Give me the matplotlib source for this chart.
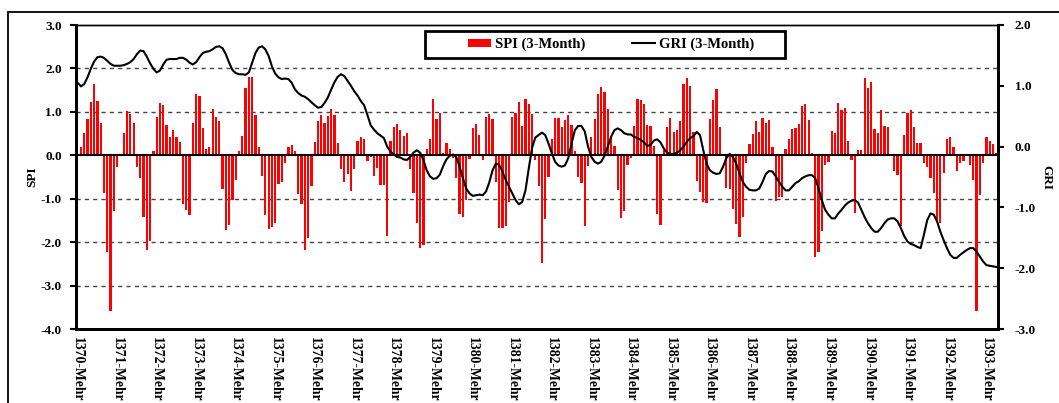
import matplotlib
matplotlib.use('Agg')
import matplotlib.pyplot as plt
from matplotlib.patches import Rectangle
from matplotlib.lines import Line2D
from matplotlib.patches import Patch
import numpy as np

plt.rcParams['font.family'] = ['Liberation Serif', 'DejaVu Serif']
plt.rcParams['font.weight'] = 'bold'

# ---------------- data ----------------
years = list(range(1370, 1394))
tick_labels = [f"{y}-Mehr" for y in years]

spi = [
    -0.02, 0.18, 0.52, 0.83, 1.22, 1.65, 1.25, 0.75, -0.86, -2.23, -3.58, -1.29,
    -0.27, 0.04, 0.52, 1.02, 0.95, 0.75, -0.27, -0.52, -1.42, -2.18, -1.98, 0.09,
    0.88, 1.21, 1.15, 0.69, 0.42, 0.58, 0.41, 0.31, -1.12, -1.25, -1.38, 0.75,
    1.41, 1.37, 0.62, 0.14, 0.18, 1.06, 0.88, 0.80, -0.78, -1.71, -1.60, -1.04,
    -0.58, 0.09, 0.44, 1.54, 1.81, 1.81, 0.93, 0.18, -0.47, -1.37, -1.70, -1.64,
    -1.56, -0.65, -0.62, -0.18, 0.18, 0.23, 0.09, -0.88, -1.12, -2.19, -1.90, -0.71,
    0.31, 0.79, 0.92, 0.75, 0.91, 1.06, 0.92, 0.28, -0.32, -0.62, -0.44, -0.82,
    -0.32, 0.32, 0.41, 0.37, -0.14, -0.04, -0.47, -0.29, -0.69, -0.68, -1.86, 0.32,
    0.65, 0.72, 0.58, 0.44, 0.52, -0.32, -0.86, -1.55, -2.14, -2.06, 0.15, 0.38,
    1.30, 0.83, 0.98, 0.05, 0.28, 0.15, -0.06, -0.52, -1.35, -1.41, -1.04, -0.08,
    0.62, 0.73, 0.46, -0.10, 0.88, 0.96, 0.83, -0.62, -1.68, -1.68, -1.63, -1.08,
    0.88, 0.98, 1.23, 0.68, 1.30, 1.19, 0.96, -0.12, -0.71, -2.48, -1.46, -0.50,
    0.38, 0.85, 0.85, 0.64, 0.81, 0.92, 0.69, 0.09, -0.50, -0.64, -1.62, -0.25,
    0.42, 0.84, 1.41, 1.58, 1.45, 1.06, 0.41, 0.21, -0.79, -1.44, -1.29, -0.22,
    -0.06, 0.67, 1.30, 1.27, 1.19, 0.69, 0.68, 0.21, -1.35, -1.60, 0.12, 0.65,
    0.87, 0.54, 0.59, 0.79, 1.64, 1.79, 1.60, 0.54, -0.60, -0.85, -1.08, -1.10,
    0.83, 1.27, 1.52, 0.65, 0.04, -0.75, -0.77, -1.23, -1.58, -1.88, -1.41, -0.18,
    0.27, 0.50, 0.79, 0.54, 0.87, 0.75, 0.82, 0.19, -1.05, -0.96, -0.96, 0.15,
    0.38, 0.60, 0.63, 0.73, 1.13, 1.18, 0.81, 0.06, -2.35, -2.23, -1.75, -0.23,
    -0.15, 0.55, 0.52, 1.21, 1.04, 1.10, 0.32, -0.10, -1.33, 0.13, 0.12, 1.77,
    1.54, 1.68, 0.60, 0.52, 1.04, 0.68, 0.64, 0.02, -0.37, -0.46, -1.62, 0.46,
    0.98, 1.04, 0.64, 0.28, 0.28, -0.18, -0.27, -0.52, -0.86, -1.50, -1.56, -0.41,
    0.37, 0.41, 0.19, -0.37, -0.17, -0.14, 0.02, -0.23, -0.56, -3.58, -0.91, -0.17,
    0.41, 0.33, 0.25, 0.05,
]

gri = [
    1.05, 0.99, 1.03, 1.14, 1.28, 1.40, 1.47, 1.48, 1.46, 1.41, 1.36, 1.33,
    1.33, 1.33, 1.34, 1.36, 1.39, 1.44, 1.52, 1.58, 1.57, 1.48, 1.37, 1.28,
    1.22, 1.25, 1.35, 1.43, 1.44, 1.44, 1.44, 1.46, 1.46, 1.43, 1.38, 1.35,
    1.39, 1.47, 1.54, 1.56, 1.57, 1.60, 1.64, 1.65, 1.62, 1.52, 1.38, 1.26,
    1.21, 1.19, 1.19, 1.18, 1.22, 1.38, 1.54, 1.63, 1.65, 1.60, 1.49, 1.32,
    1.20, 1.14, 1.11, 1.12, 1.11, 1.05, 0.94, 0.88, 0.84, 0.82, 0.78, 0.73,
    0.68, 0.64, 0.65, 0.72, 0.81, 0.94, 1.06, 1.15, 1.19, 1.16, 1.08, 1.00,
    0.91, 0.84, 0.75, 0.68, 0.52, 0.35, 0.28, 0.22, 0.18, 0.14, 0.00, -0.08,
    -0.13, -0.17, -0.18, -0.21, -0.22, -0.17, -0.10, -0.06, -0.10, -0.22, -0.39, -0.49,
    -0.53, -0.52, -0.46, -0.32, -0.21, -0.15, -0.13, -0.17, -0.33, -0.52, -0.69, -0.77,
    -0.81, -0.80, -0.79, -0.80, -0.74, -0.59, -0.39, -0.28, -0.30, -0.41, -0.55, -0.66,
    -0.77, -0.88, -0.95, -0.91, -0.72, -0.36, -0.02, 0.15, 0.19, 0.23, 0.19, 0.05,
    -0.11, -0.25, -0.31, -0.33, -0.31, -0.19, 0.05, 0.27, 0.34, 0.34, 0.25, 0.00,
    -0.17, -0.25, -0.28, -0.25, -0.15, 0.00, 0.16, 0.27, 0.30, 0.27, 0.22, 0.20,
    0.20, 0.16, 0.14, 0.11, 0.07, 0.01, 0.03, 0.10, 0.12, 0.07, -0.03, -0.10,
    -0.12, -0.12, -0.10, -0.06, 0.00, 0.08, 0.14, 0.17, 0.24, 0.19, -0.06, -0.28,
    -0.39, -0.43, -0.45, -0.44, -0.33, -0.19, -0.12, -0.17, -0.28, -0.44, -0.58, -0.66,
    -0.71, -0.72, -0.72, -0.69, -0.58, -0.45, -0.40, -0.41, -0.49, -0.58, -0.66, -0.72,
    -0.72, -0.66, -0.60, -0.57, -0.52, -0.49, -0.47, -0.47, -0.52, -0.69, -0.88, -1.04,
    -1.12, -1.18, -1.18, -1.10, -1.04, -0.97, -0.92, -0.89, -0.88, -0.92, -1.04, -1.16,
    -1.26, -1.34, -1.40, -1.40, -1.34, -1.26, -1.20, -1.18, -1.18, -1.23, -1.34, -1.47,
    -1.56, -1.60, -1.62, -1.65, -1.67, -1.45, -1.21, -1.10, -1.12, -1.23, -1.40, -1.54,
    -1.67, -1.78, -1.83, -1.83, -1.78, -1.74, -1.70, -1.67, -1.67, -1.73, -1.81, -1.89,
    -1.95, -1.96, -1.97, -1.98,
]

spi_ticks = [-4, -3, -2, -1, 0, 1, 2, 3]
gri_ticks = [-3, -2, -1, 0, 1, 2]

# ---------------- figure ----------------
W, H = 1059, 403
fig = plt.figure(figsize=(W / 100, H / 100), dpi=100)

# outer chart frame
fig.patches.append(Rectangle((8 / W, -0.2), 1.2, 1 - 12 / H + 0.2,
                             transform=fig.transFigure, fill=False,
                             ec='black', lw=1.3, clip_on=False))

L, R, T, B = 76, 998, 25, 329
ax = fig.add_axes([L / W, 1 - B / H, (R - L) / W, (B - T) / H])

x = np.arange(len(spi))
ax.bar(x, spi, width=0.68, color='#FF0000', zorder=2, label='SPI (3-Month)')
ax.set_xlim(-0.5, len(spi) - 0.5)
ax.set_ylim(-4, 3)
ax.set_yticks(spi_ticks)
ax.set_yticklabels([f"{v:.1f}" for v in spi_ticks])

for v in [-3, -2, -1, 1, 2]:
    ax.axhline(v, color='#444444', lw=1.0, ls=(0, (3, 3)), zorder=1)
ax.axhline(0, color='black', lw=1.5, zorder=3)

ax.set_xticks(x[::12])
ax.set_xticklabels(tick_labels[:len(x[::12])], rotation=270, va='top', ha='center')

for s in ['left', 'bottom', 'right']:
    ax.spines[s].set_linewidth(2)
ax.spines['top'].set_linewidth(1)

ax.tick_params(axis='y', length=4, width=1.5, pad=6, labelsize=9.5)
ax.tick_params(axis='x', length=0, pad=6, labelsize=9.8)

ax2 = ax.twinx()
ax2.plot(x, gri, color='black', lw=1.5, label='GRI (3-Month)')
ax2.set_ylim(-3, 2)
ax2.set_yticks(gri_ticks)
ax2.set_yticklabels([f"{v:.1f}" for v in gri_ticks])
ax2.tick_params(axis='y', length=4, width=1.5, pad=8, labelsize=9.5)
for s in ['left', 'bottom', 'right']:
    ax2.spines[s].set_linewidth(2)
ax2.spines['top'].set_linewidth(1)

# legend box
bx0, bx1, by0, by1 = 425, 785, 31, 58
ax2.add_patch(Rectangle(((bx0 - L) / (R - L), (B - by1) / (B - T)),
                        (bx1 - bx0) / (R - L), (by1 - by0) / (B - T),
                        transform=ax2.transAxes, fc='white', ec='black',
                        lw=2, zorder=4, clip_on=False))
handles = [Patch(facecolor='#FF0000', edgecolor='none'),
           Line2D([0], [0], color='black', lw=1.5)]
ax2.legend(handles, ['SPI (3-Month)', 'GRI (3-Month)'], ncol=2,
           loc='center', frameon=False,
           bbox_to_anchor=(((bx0 + bx1) / 2 + 6 - L) / (R - L),
                           (B - (by0 + by1) / 2) / (B - T)),
           prop={'size': 10.5, 'weight': 'bold'},
           handlelength=1.6, handleheight=0.55, handletextpad=0.25,
           columnspacing=3.2, borderpad=0.2).set_zorder(5)

fig.text(32 / W, 1 - 177 / H, 'SPI', rotation=90, ha='center', va='center',
         fontsize=9.5, fontweight='bold')
fig.text(1046 / W, 1 - 177 / H, 'GRI', rotation=270, ha='center', va='center',
         fontsize=9.5, fontweight='bold')

fig.savefig('out.png', dpi=100)
